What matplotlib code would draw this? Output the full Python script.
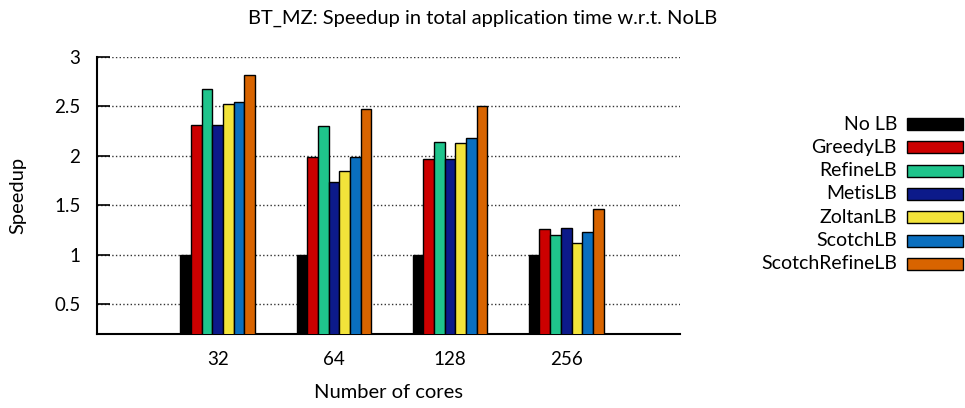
import numpy as np
import matplotlib
matplotlib.use('Agg')
import matplotlib.pyplot as plt
import matplotlib.patches as mpatches

plt.rcParams['font.family'] = ['Lato', 'DejaVu Sans']

cores = ['32', '64', '128', '256']
series = ['No LB', 'GreedyLB', 'RefineLB', 'MetisLB', 'ZoltanLB', 'ScotchLB', 'ScotchRefineLB']
colors = ['#000000', '#cc0000', '#1fc48c', '#0c1a8a', '#f2e33a', '#0a6fbf', '#d86400']

no_lb = [1.0, 1.0, 1.0, 1.0]
greedy = [2.31, 1.99, 1.97, 1.26]
refine = [2.68, 2.30, 2.14, 1.20]
metis = [2.31, 1.74, 1.97, 1.27]
zoltan = [2.52, 1.85, 2.13, 1.12]
scotch = [2.55, 1.99, 2.18, 1.23]
scotch_refine = [2.82, 2.47, 2.50, 1.46]
values = [no_lb, greedy, refine, metis, zoltan, scotch, scotch_refine]

fig = plt.figure(figsize=(9.65, 4.08), dpi=100)
ax = fig.add_axes([97 / 965, 1 - 334 / 408, (680 - 97) / 965, (334 - 57) / 408])

x = np.arange(len(cores))
width = 0.092
for i, (vals, col) in enumerate(zip(values, colors)):
    ax.bar(x + (i - 3) * width, vals, width, color=col, edgecolor='black',
           linewidth=1.0, zorder=3)

ax.set_xlim(-1.04, 3.98)
ax.set_ylim(0.2, 3.0)
ax.set_yticks([0.5, 1, 1.5, 2, 2.5, 3])
ax.set_yticklabels(['0.5', '1', '1.5', '2', '2.5', '3'])
ax.set_xticks(x)
ax.set_xticklabels(cores)
ax.tick_params(axis='y', direction='in', length=9, width=1.2, labelsize=13.5, pad=12)
ax.tick_params(axis='x', length=0, labelsize=13.5, pad=12)
ax.grid(True, axis='y', linestyle=':', color='#333333', linewidth=1.0, zorder=0)
ax.set_axisbelow(True)
for s in ['top', 'right']:
    ax.spines[s].set_visible(False)
for s in ['left', 'bottom']:
    ax.spines[s].set_linewidth(1.5)

ax.set_xlabel('Number of cores', fontsize=14.5, labelpad=12)
ax.set_ylabel('Speedup', fontsize=14.5, labelpad=20)
fig.text(0.5, 1 - 18 / 408, 'BT_MZ: Speedup in total application time w.r.t. NoLB',
         ha='center', va='center', fontsize=14.5)

# legend: right-aligned labels with boxes on the right
for i, (name, col) in enumerate(zip(series, colors)):
    yc = 1 - (124 + i * 23.3) / 408
    fig.text(897 / 965, yc, name, ha='right', va='center', fontsize=14)
    fig.patches.append(mpatches.Rectangle((907 / 965, yc - 6 / 408), 56 / 965, 12 / 408,
                                          transform=fig.transFigure, facecolor=col,
                                          edgecolor='black', linewidth=1.0))

fig.savefig('out.png', dpi=100)
